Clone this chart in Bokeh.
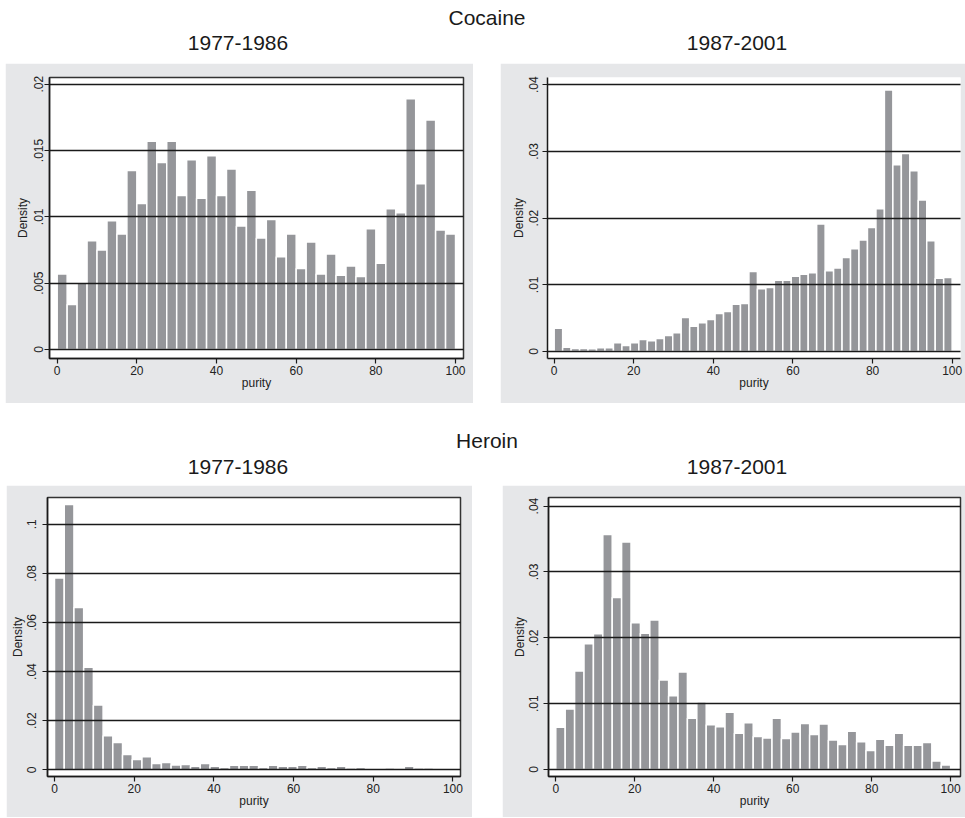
import numpy as np
from bokeh.plotting import figure
from bokeh.models import Div, Spacer, FixedTicker, Range1d
from bokeh.layouts import column, row
from bokeh.embed import file_html
from bokeh.resources import INLINE

# ---------------- data (densities) ----------------
drugs = ["Cocaine", "Heroin"]
periods = ["1977-1986", "1987-2001"]

purity_min, purity_max = 0, 100
x_ticks = [0, 20, 40, 60, 80, 100]

cocaine_1977_1986 = [0.0057, 0.0034, 0.0050, 0.0082, 0.0075, 0.0097, 0.0087, 0.0135, 0.0110, 0.0157,
                     0.0141, 0.0157, 0.0116, 0.0143, 0.0114, 0.0146, 0.0116, 0.0136, 0.0093, 0.0120,
                     0.0084, 0.0098, 0.0070, 0.0087, 0.0061, 0.0081, 0.0057, 0.0072, 0.0056, 0.0063,
                     0.0055, 0.0091, 0.0065, 0.0106, 0.0103, 0.0189, 0.0125, 0.0173, 0.0090, 0.0087]

cocaine_1987_2001 = [0.0035, 0.00065, 0.00045, 0.00045, 0.0004, 0.00055, 0.00055, 0.0013, 0.0009, 0.0013,
                     0.0018, 0.0016, 0.00195, 0.0024, 0.0028, 0.0051, 0.0038, 0.0043, 0.0048, 0.0057,
                     0.0060, 0.0071, 0.0072, 0.0120, 0.0094, 0.0096, 0.0107, 0.0107, 0.0113, 0.0116,
                     0.0118, 0.0191, 0.0121, 0.0125, 0.0141, 0.0154, 0.0167, 0.0186, 0.0214, 0.0392,
                     0.0280, 0.0297, 0.0271, 0.0227, 0.0166, 0.0110, 0.0111]

heroin_1977_1986 = [0.0781, 0.1080, 0.0661, 0.0418, 0.0264, 0.0139, 0.0111, 0.0062, 0.0042, 0.0053,
                    0.0026, 0.0030, 0.0020, 0.0022, 0.0015, 0.0026, 0.0015, 0.0009, 0.0019, 0.0019,
                    0.0019, 0.0009, 0.0019, 0.0015, 0.0015, 0.0019, 0.0009, 0.0015, 0.0009, 0.0015,
                    0.0007, 0.0009, 0.0001, 0.0001, 0.0007, 0.0003, 0.0015, 0.0007, 0.0007, 0.0000,
                    0.0001]

heroin_1987_2001 = [0.0064, 0.0092, 0.01495, 0.0191, 0.0206, 0.0357, 0.0261, 0.03455, 0.0223, 0.0207,
                    0.0227, 0.0136, 0.0112, 0.0148, 0.0078, 0.01025, 0.0068, 0.0065, 0.0087, 0.0055,
                    0.0071, 0.0050, 0.0048, 0.0078, 0.0047, 0.0057, 0.0070, 0.0053, 0.0069, 0.0045,
                    0.0038, 0.0058, 0.0042, 0.0029, 0.0046, 0.0037, 0.0055, 0.0037, 0.0037, 0.0041,
                    0.0013, 0.0007]

yticks_coc_77 = [0, 0.005, 0.01, 0.015, 0.02]
ylabels_coc_77 = ["0", ".005", ".01", ".015", ".02"]
yticks_04 = [0, 0.01, 0.02, 0.03, 0.04]
ylabels_04 = ["0", ".01", ".02", ".03", ".04"]
yticks_her_77 = [0, 0.02, 0.04, 0.06, 0.08, 0.1]
ylabels_her_77 = ["0", ".02", ".04", ".06", ".08", ".1"]

# ---------------- styling ----------------
FONT = "Liberation Sans"
BAR = "#95969a"
PANEL = "#e6e7e9"
INK = "#1a1a1a"


def make_panel(dens, yticks, ylabels, width, height, mb, xr, yr, outline=True,
               tick_standoff=2, label_standoff=6):
    n = len(dens)
    edges = np.linspace(purity_min, purity_max, n + 1)
    p = figure(width=width, height=height, output_backend="svg", toolbar_location=None,
               x_range=Range1d(*xr), y_range=Range1d(*yr),
               min_border_left=mb[0], min_border_right=mb[1],
               min_border_top=mb[2], min_border_bottom=mb[3])
    p.border_fill_color = PANEL
    p.background_fill_color = "white"
    p.quad(left=edges[:-1], right=edges[1:], bottom=0, top=dens,
           fill_color=BAR, line_color="white", line_width=1.5)

    p.xaxis.ticker = FixedTicker(ticks=x_ticks)
    p.yaxis.ticker = FixedTicker(ticks=yticks)
    p.yaxis.major_label_overrides = {t: s for t, s in zip(yticks, ylabels)}
    p.yaxis.major_label_orientation = "vertical"

    p.axis.axis_line_color = INK
    p.axis.axis_line_width = 1.5
    p.axis.major_tick_line_color = INK
    p.axis.major_tick_line_width = 1.2
    p.axis.major_tick_out = 5
    p.axis.major_tick_in = 0
    p.axis.minor_tick_line_color = None
    p.axis.major_label_text_font = FONT
    p.axis.major_label_text_font_size = "12px"
    p.axis.major_label_text_color = "#222222"
    p.axis.axis_label_text_font = FONT
    p.axis.axis_label_text_font_size = "12px"
    p.axis.axis_label_text_font_style = "normal"
    p.axis.axis_label_text_color = "#222222"
    p.xaxis.major_label_standoff = 2
    p.xaxis.axis_label_standoff = -2
    p.yaxis.major_label_standoff = tick_standoff
    p.yaxis.axis_label_standoff = label_standoff
    p.xaxis.axis_label = "purity"
    p.yaxis.axis_label = "Density"

    p.xgrid.visible = False
    p.ygrid.grid_line_color = INK
    p.ygrid.grid_line_width = 1.5
    p.ygrid.level = "annotation"

    if outline:
        p.outline_line_color = "#333333"
        p.outline_line_width = 1.5
        p.outline_line_alpha = 1.0
    else:
        p.outline_line_color = None
    return p


p1 = make_panel(cocaine_1977_1986, yticks_coc_77, ylabels_coc_77, 468, 340,
                (44, 10, 13, 45), (-1.93, 102.0), (-0.000676, 0.0205),
                outline=True, tick_standoff=1, label_standoff=2)
p2 = make_panel(cocaine_1987_2001, yticks_04, ylabels_04, 465, 340,
                (47, 5, 14, 45), (-1.68, 102.1), (-0.00105, 0.04108),
                outline=False, tick_standoff=4, label_standoff=1)
p3 = make_panel(heroin_1977_1986, yticks_her_77, ylabels_her_77, 466, 332,
                (41, 12, 12, 40), (-1.76, 101.9), (-0.00272, 0.1109),
                outline=True, tick_standoff=6, label_standoff=0)
p4 = make_panel(heroin_1987_2001, yticks_04, ylabels_04, 463, 332,
                (46, 5, 11, 41), (-1.85, 102.5), (-0.00106, 0.0413),
                outline=True, tick_standoff=5, label_standoff=0)


def header(drug, height, drug_top, sub_top):
    def lab(txt, cx, top):
        return ('<div style="position:absolute;left:%dpx;width:300px;top:%.1fpx;'
                'text-align:center;font-size:21px;line-height:21px;white-space:nowrap;">%s</div>'
                % (cx - 150, top, txt))
    html = ('<div style="position:relative;width:965px;height:%dpx;font-family:\'Liberation Sans\',Arial,sans-serif;color:#1a1a1a;">'
            % height)
    html += lab(drug, 487, drug_top)
    html += lab(periods[0], 238, sub_top)
    html += lab(periods[1], 737, sub_top)
    html += '</div>'
    return Div(text=html, width=965, height=height, margin=0)


h1 = header(drugs[0], 63, 6.9, 31.5)
h2 = header(drugs[1], 82, 26.7, 53.4)

row1 = row(Spacer(width=5, height=340), p1, Spacer(width=27, height=340), p2)
row2 = row(Spacer(width=6, height=332), p3, Spacer(width=30, height=332), p4)

layout = column(h1, row1, h2, row2)

open("out.html", "w").write(file_html(layout, INLINE))
